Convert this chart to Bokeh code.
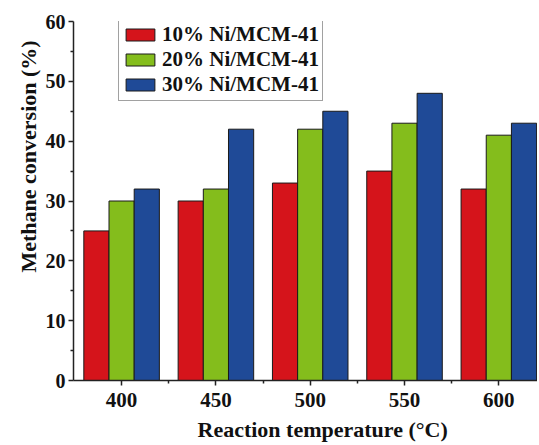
from bokeh.plotting import figure
from bokeh.models import FixedTicker, Legend, LegendItem, Title, Range1d, ColumnDataSource
from bokeh.transform import dodge
from bokeh.embed import file_html
from bokeh.resources import INLINE

temps = ["400", "450", "500", "550", "600"]
ni10 = [25, 30, 33, 35, 32]
ni20 = [30, 32, 42, 43, 41]
ni30 = [32, 42, 45, 48, 43]
series_names = ["10% Ni/MCM-41", "20% Ni/MCM-41", "30% Ni/MCM-41"]
colors = ["#d5141b", "#84bd1c", "#1f4a97"]
y_ticks = [0, 10, 20, 30, 40, 50, 60]

FONT = "Liberation Serif"

src = ColumnDataSource(dict(x=list(range(len(temps))), a=ni10, b=ni20, c=ni30))

p = figure(frame_width=464, frame_height=359, output_backend="svg", toolbar_location=None,
           x_range=Range1d(-0.51, 4.41), y_range=Range1d(0, 60),
           min_border_left=73, min_border_right=0, min_border_top=21, min_border_bottom=60)
p.background_fill_color = "white"
p.border_fill_color = "white"
p.outline_line_color = None
p.grid.visible = False

bw = 0.267
renderers = []
for key, off, col in zip(["a", "b", "c"], [-bw, 0, bw], colors):
    r = p.vbar(x=dodge("x", off), top=key, width=bw, bottom=0, source=src,
               fill_color=col, line_color="#1a1a1a", line_width=1)
    renderers.append(r)

p.xaxis.ticker = FixedTicker(ticks=list(range(len(temps))), minor_ticks=[0.5, 1.5, 2.5, 3.5])
p.xaxis.major_label_overrides = {i: t for i, t in enumerate(temps)}
p.yaxis.ticker = FixedTicker(ticks=y_ticks, minor_ticks=[5, 15, 25, 35, 45, 55])

for ax in (p.xaxis, p.yaxis):
    ax.axis_line_width = 1.5
    ax.axis_line_color = "#222222"
    ax.major_tick_line_width = 1.5
    ax.minor_tick_line_width = 1.5
    ax.major_tick_line_color = "#222222"
    ax.minor_tick_line_color = "#222222"
    ax.major_tick_out = 5
    ax.major_tick_in = 0
    ax.minor_tick_out = 3
    ax.minor_tick_in = 0
    ax.major_label_text_font = FONT
    ax.major_label_text_font_style = "bold"
    ax.major_label_text_color = "#111111"
p.xaxis.major_label_text_font_size = "21px"
p.yaxis.major_label_text_font_size = "20px"
p.xaxis.major_label_standoff = 7
p.yaxis.major_label_standoff = 3

legend = Legend(items=[LegendItem(label=n, renderers=[r]) for n, r in zip(series_names, renderers)],
                location=(45, 279), glyph_width=36, glyph_height=15, label_height=23,
                spacing=0, padding=3, margin=0, label_standoff=4,
                border_line_color="#444444", border_line_width=1,
                label_text_font=FONT, label_text_font_style="bold",
                label_text_font_size="21px", label_text_color="#111111",
                background_fill_alpha=1)
p.add_layout(legend)

xt = Title(text="Reaction temperature (\u00b0C)", align="left", offset=124,
           text_font=FONT, text_font_style="bold", text_font_size="22px",
           text_color="#111111", standoff=10)
p.add_layout(xt, "below")
yt = Title(text="Methane conversion (%)", align="left", offset=108,
           text_font=FONT, text_font_style="bold", text_font_size="22px",
           text_color="#111111", standoff=4)
p.add_layout(yt, "left")

open("out.html", "w").write(file_html(p, INLINE))
